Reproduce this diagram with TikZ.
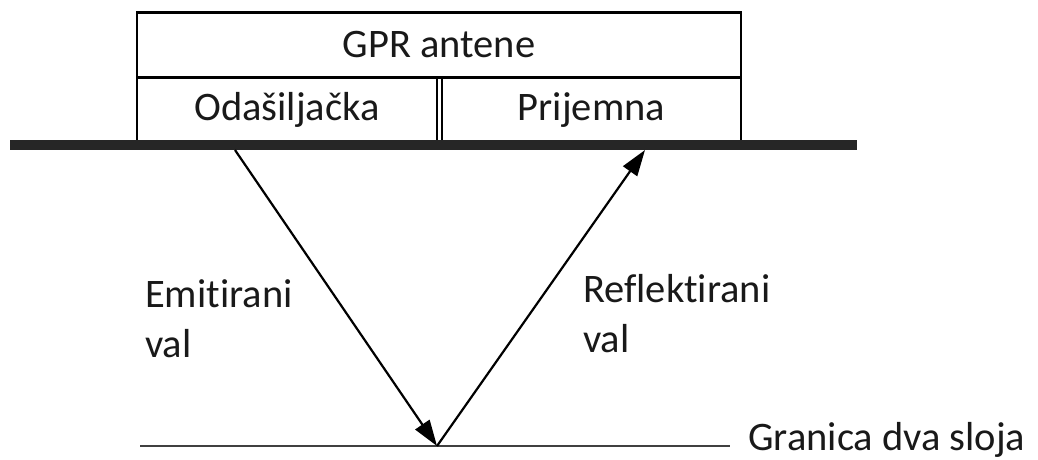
\documentclass[tikz,border=0pt]{standalone}
\usepackage{fontspec}
\setmainfont{Carlito}[Ligatures=NoCommon]
\usetikzlibrary{arrows.meta}

\begin{document}
\begin{tikzpicture}[x=1pt, y=-1pt,
    every node/.style={inner sep=0pt, text=black!90, font=\fontsize{40.5}{50}\selectfont},
    cellule/.style={draw, line width=2.4pt, minimum height=65pt},
    fleche/.style={line width=2.2pt, -{Triangle[length=26pt, width=17pt]}},
    legende/.style={align=left, anchor=north west}]
    \useasboundingbox (0,0) rectangle (1038,459);
    % antennes
    \node[cellule, minimum width=604pt] (gpr) at (439,45) {GPR antene};
    \node[cellule, minimum width=300pt, minimum height=66pt] (odas) at (287,110) {Odašiljačka};
    \node[cellule, minimum width=299pt, minimum height=66pt] (prij) at (591.5,110) {Prijemna};
    % surface et interface
    \coordinate (sg) at (10,145);
    \coordinate (sd) at (857,145);
    \coordinate (ig) at (140,446);
    \coordinate (id) at (730,446);
    \draw[line width=10pt, black!85] (sg) -- (sd);
    \draw[line width=1.8pt, black!75] (ig) -- (id);
    % ondes
    \coordinate (tx) at (235,150);
    \coordinate (rx) at (645,150);
    \coordinate (apex) at (437,446);
    \draw[fleche] (tx) -- (apex);
    \draw[fleche] (apex) -- (rx);
    % textes
    \node[legende] (emit) at (145,279) {Emitirani\\val};
    \node[legende] (refl) at (583,274) {Reflektirani\\val};
    \node[anchor=base west] (granica) at (748,450) {Granica dva sloja};
\end{tikzpicture}
\end{document}
